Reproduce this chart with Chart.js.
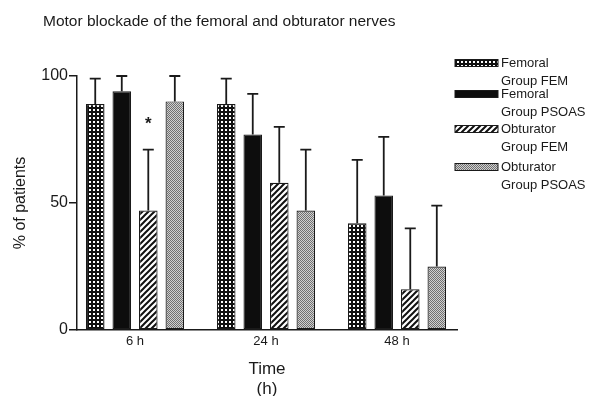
<!DOCTYPE html>
<html>
<head>
<meta charset="utf-8">
<script src="https://cdn.jsdelivr.net/npm/chart.js@4/dist/chart.umd.min.js"></script>
<style>
  html, body { margin: 0; padding: 0; background: #fff; }
  #wrap { width: 591px; height: 396px; position: relative; }
</style>
</head>
<body>
<div id="wrap"><canvas id="motorChart"></canvas></div>
<script>
// data
const timePoints = ['6 h', '24 h', '48 h'];
const seriesNames = [
    ['Femoral', 'Group FEM'],
    ['Femoral', 'Group PSOAS'],
    ['Obturator', 'Group FEM'],
    ['Obturator', 'Group PSOAS']
];
const femoralFem = [89, 89, 42];
const femoralFemSd = [10, 10, 25];
const femoralPsoas = [94, 77, 53];
const femoralPsoasSd = [6, 16, 23];
const obturatorFem = [47, 58, 16];
const obturatorFemSd = [24, 22, 24];
const obturatorPsoas = [90, 47, 25];
const obturatorPsoasSd = [10, 24, 24];
const obturatorFemStars = ['*', '', ''];
const yTicks = [0, 50, 100];

const FONT = '"Liberation Sans", Arial, Helvetica, sans-serif';
const INK = '#1a1a1a';

// fill patterns
function makePattern(size, draw) {
    const c = document.createElement('canvas');
    c.width = size; c.height = size;
    const g = c.getContext('2d');
    draw(g, size);
    return g.createPattern(c, 'repeat');
}
const checkPattern = makePattern(4, (g) => {
    g.fillStyle = '#111'; g.fillRect(0, 0, 4, 4);
    g.fillStyle = '#fff'; g.fillRect(1, 1, 2, 2);
});
const hatchPattern = makePattern(6, (g) => {
    g.fillStyle = '#fff'; g.fillRect(0, 0, 6, 6);
    g.strokeStyle = '#111'; g.lineWidth = 2;
    g.beginPath();
    g.moveTo(-1, 7); g.lineTo(7, -1);
    g.moveTo(-1, 1); g.lineTo(1, -1);
    g.moveTo(5, 7); g.lineTo(7, 5);
    g.stroke();
});
const greyPattern = makePattern(2, (g) => {
    g.fillStyle = '#d0d0d0'; g.fillRect(0, 0, 2, 2);
    g.fillStyle = '#707070'; g.fillRect(0, 0, 1, 1); g.fillRect(1, 1, 1, 1);
});

const toPoints = (arr) => arr.map((v, i) => ({ x: i, y: v }));

const datasets = [
    { label: seriesNames[0].join(' '), data: toPoints(femoralFem), sd: femoralFemSd, backgroundColor: checkPattern },
    { label: seriesNames[1].join(' '), data: toPoints(femoralPsoas), sd: femoralPsoasSd, backgroundColor: '#0d0d0d' },
    { label: seriesNames[2].join(' '), data: toPoints(obturatorFem), sd: obturatorFemSd, stars: obturatorFemStars, backgroundColor: hatchPattern },
    { label: seriesNames[3].join(' '), data: toPoints(obturatorPsoas), sd: obturatorPsoasSd, backgroundColor: greyPattern }
].map(d => Object.assign(d, {
    borderColor: INK,
    borderWidth: 1.2,
    borderSkipped: false,
    categoryPercentage: 0.81,
    barPercentage: 0.7
}));

// error bars (upward SD) + significance star
const errorBars = {
    id: 'errorBars',
    afterDatasetsDraw(chart) {
        const ctx = chart.ctx;
        const y = chart.scales.y;
        ctx.save();
        ctx.strokeStyle = INK;
        ctx.lineWidth = 1.8;
        chart.data.datasets.forEach((ds, i) => {
            const meta = chart.getDatasetMeta(i);
            meta.data.forEach((bar, j) => {
                const top = y.getPixelForValue(ds.data[j].y + ds.sd[j]);
                ctx.beginPath();
                ctx.moveTo(bar.x, bar.y);
                ctx.lineTo(bar.x, top);
                ctx.moveTo(bar.x - 5.5, top);
                ctx.lineTo(bar.x + 5.5, top);
                ctx.stroke();
                if (ds.stars && ds.stars[j]) {
                    ctx.fillStyle = INK;
                    ctx.font = 'bold 17px ' + FONT;
                    ctx.textAlign = 'center';
                    ctx.textBaseline = 'middle';
                    ctx.fillText(ds.stars[j], bar.x, top - 25);
                }
            });
        });
        ctx.restore();
    }
};

// title and legend on the right
const decorations = {
    id: 'decorations',
    afterDraw(chart) {
        const ctx = chart.ctx;
        ctx.save();
        ctx.fillStyle = INK;
        ctx.font = '15.5px ' + FONT;
        ctx.textAlign = 'left';
        ctx.textBaseline = 'middle';
        ctx.fillText('Motor blockade of the femoral and obturator nerves', 43, 22);

        const rowY = [63, 94, 129, 167];
        ctx.font = '13px ' + FONT;
        chart.data.datasets.forEach((ds, i) => {
            const yy = rowY[i];
            ctx.fillStyle = ds.backgroundColor;
            ctx.fillRect(455, yy - 3.5, 43, 7);
            ctx.strokeStyle = INK;
            ctx.lineWidth = 1;
            ctx.strokeRect(455, yy - 3.5, 43, 7);
            ctx.fillStyle = INK;
            ctx.fillText(seriesNames[i][0], 501, yy);
            ctx.fillText(seriesNames[i][1], 501, yy + 18);
        });
        ctx.restore();
    }
};

const ctx = document.getElementById('motorChart').getContext('2d');
new Chart(ctx, {
    type: 'bar',
    data: { datasets: datasets },
    plugins: [errorBars, decorations],
    options: {
        responsive: true,
        maintainAspectRatio: false,
        animation: false,
        layout: { padding: { top: 76, right: 134, left: 0, bottom: 0 } },
        plugins: {
            legend: { display: false },
            tooltip: { enabled: false },
            title: { display: false }
        },
        scales: {
            x: {
                type: 'linear',
                offset: false,
                min: -0.443,
                max: 2.458,
                afterBuildTicks: (s) => { s.ticks = timePoints.map((t, i) => ({ value: i })); },
                afterFit: (s) => { s.height = 66; },
                ticks: {
                    callback: (v) => timePoints[v],
                    font: { family: FONT, size: 13 },
                    color: INK,
                    padding: 4,
                    maxRotation: 0,
                    autoSkip: false
                },
                grid: { display: false, drawTicks: false },
                border: { display: true, color: INK, width: 1.5 },
                title: {
                    display: true,
                    text: ['Time', '(h)'],
                    font: { family: FONT, size: 17 },
                    color: INK,
                    padding: { top: 0, bottom: -4 }
                }
            },
            y: {
                min: 0,
                max: 100,
                afterBuildTicks: (s) => { s.ticks = yTicks.map(v => ({ value: v })); },
                afterFit: (s) => { s.width = 77; },
                ticks: {
                    font: { family: FONT, size: 16 },
                    color: INK,
                    padding: 1
                },
                grid: { drawOnChartArea: false, drawTicks: true, tickLength: 8, color: INK, lineWidth: 1.5 },
                border: { display: true, color: INK, width: 1.5 },
                title: {
                    display: true,
                    text: '% of patients',
                    font: { family: FONT, size: 16 },
                    color: INK,
                    padding: { top: 11, bottom: 0 }
                }
            }
        }
    }
});
</script>
</body>
</html>
